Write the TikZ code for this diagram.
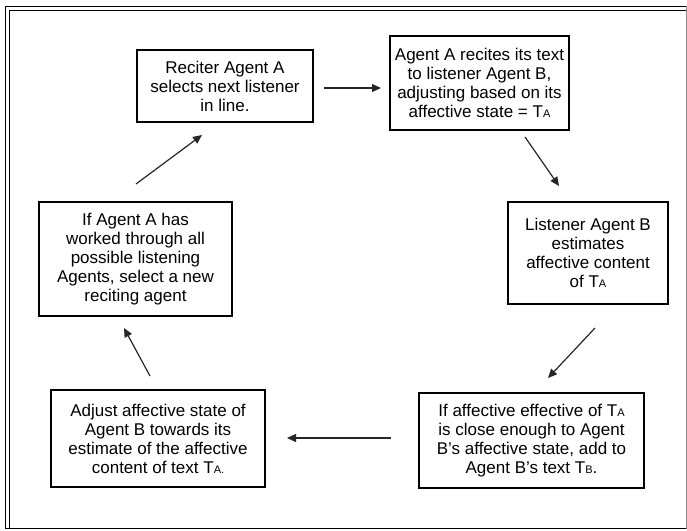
\documentclass[tikz,border=0pt]{standalone}
\usepackage{fontspec}
\setmainfont{Liberation Sans}
\usetikzlibrary{arrows.meta}
\newcommand{\tsub}[1]{{\fontsize{11}{11}\selectfont #1}}
\begin{document}
\begin{tikzpicture}[x=1pt,y=1pt,
  box/.style={draw, line width=1.3pt, align=center, inner sep=0pt,
    font=\fontsize{17}{19}\selectfont},
  arr/.style={draw, line width=1.2pt, black!85, -{Triangle[length=9pt,width=8pt]}}]
\useasboundingbox (0,0) rectangle (687,530);
% frame
\draw[line width=1pt, black!45] (5.5,1.5) rectangle (686,523);
\draw[line width=1pt] (5.5,1.5) -- (5.5,523) -- (686,523);
\draw[line width=1pt] (9.5,1.5) -- (9.5,519.5) -- (686,519.5);
\draw[line width=1pt] (5.5,1.5) -- (686,1.5);
% boxes
\node[box, minimum width=176, minimum height=72] (b1) at (225,444)
  {Reciter Agent A\\selects next listener\\in line.};
\node[box, minimum width=179, minimum height=94] (b2) at (479.5,447)
  {Agent A recites its text\\to listener Agent B,\\adjusting based on its\\affective state = T\tsub{A}};
\node[box, minimum width=160, minimum height=102] (b3) at (588,277)
  {Listener Agent B\\estimates\\affective content\\of T\tsub{A}};
\node[box, minimum width=225, minimum height=95] (b4) at (531.5,89.5)
  {If affective effective of T\tsub{A}\\is close enough to Agent\\B's affective state, add to\\Agent B's text T\tsub{B}.};
\node[box, minimum width=214, minimum height=97] (b5) at (158,91.5)
  {Adjust affective state of\\Agent B towards its\\estimate of the affective\\content of text T\tsub{A.}};
\node[box, minimum width=193, minimum height=114] (b6) at (135.5,271)
  {If Agent A has\\worked through all\\possible listening\\Agents, select a new\\reciting agent};
% arrow ends
\coordinate (a1s) at (324,442); \coordinate (a1e) at (381,442);
\coordinate (a2s) at (525,393); \coordinate (a2e) at (559,344);
\coordinate (a3s) at (595,202); \coordinate (a3e) at (548,152);
\coordinate (a4s) at (391,92);  \coordinate (a4e) at (287,92);
\coordinate (a5s) at (150,154); \coordinate (a5e) at (124,202);
\coordinate (a6s) at (136,346); \coordinate (a6e) at (202,395);
\path[arr] (a1s) -- (a1e);
\path[arr] (a2s) -- (a2e);
\path[arr] (a3s) -- (a3e);
\path[arr] (a4s) -- (a4e);
\path[arr] (a5s) -- (a5e);
\path[arr] (a6s) -- (a6e);
\end{tikzpicture}
\end{document}
